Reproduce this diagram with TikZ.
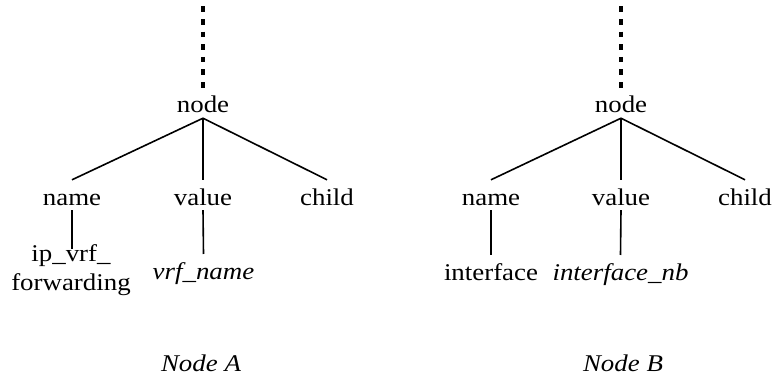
\documentclass[tikz,border=0pt]{standalone}
\usepackage{fontspec}
\setmainfont{Liberation Serif}[FakeStretch=1.12]
\begin{document}
\begin{tikzpicture}[x=1pt,y=-1pt,
  every node/.style={font=\fontsize{24}{29}\selectfont, inner sep=0pt},
  rootnode/.style={anchor=base, text height=24pt, text depth=5pt},
  fieldnode/.style={anchor=base, text height=26pt, text depth=4pt},
  leafnode/.style={anchor=north, text height=25pt, text depth=6pt},
  multileaf/.style={anchor=north, align=center},
  caption/.style={anchor=base, font=\fontsize{24}{29}\selectfont\itshape},
  edge/.style={line width=1.6pt},
  parentlink/.style={line width=3.4pt, dash pattern=on 5.5pt off 7.1pt}]
\useasboundingbox (0,0) rectangle (772,379);

% ---- tree A ----
\coordinate (upA) at (203,6.5);
\node[rootnode]  (rootA)  at (203,113) {node};
\node[fieldnode] (nameA)  at (72,206)  {name};
\node[fieldnode] (valueA) at (203,206) {value};
\node[fieldnode] (childA) at (327,206) {child};
\node[multileaf] (nmA)    at (71,244)  {ip\_vrf\_\\forwarding};
\node[leafnode, font=\fontsize{24}{29}\selectfont\itshape] (valA) at (203.5,254) {vrf\_name};
\node[caption]   (capA)   at (201,372) {Node A};

\draw[parentlink] (upA) -- (rootA.north);
\draw[edge] (rootA.south) -- (nameA.north);
\draw[edge] (rootA.south) -- (valueA.north);
\draw[edge] (rootA.south) -- (childA.north);
\draw[edge] (nameA.south) -- ([yshift=-5pt]nameA.south |- nmA.north);
\draw[edge] (valueA.south) -- (valA.north);

% ---- tree B ----
\coordinate (upB) at (621,6.5);
\node[rootnode]  (rootB)  at (621,113) {node};
\node[fieldnode] (nameB)  at (491,206) {name};
\node[fieldnode] (valueB) at (621,206) {value};
\node[fieldnode] (childB) at (745,206) {child};
\node[leafnode]  (nmB)    at (491,255) {interface};
\node[leafnode, font=\fontsize{24}{29}\selectfont\itshape] (valB) at (620.5,255) {interface\_nb};
\node[caption]   (capB)   at (623,372) {Node B};

\draw[parentlink] (upB) -- (rootB.north);
\draw[edge] (rootB.south) -- (nameB.north);
\draw[edge] (rootB.south) -- (valueB.north);
\draw[edge] (rootB.south) -- (childB.north);
\draw[edge] (nameB.south) -- (nmB.north);
\draw[edge] (valueB.south) -- (valB.north);
\end{tikzpicture}
\end{document}
